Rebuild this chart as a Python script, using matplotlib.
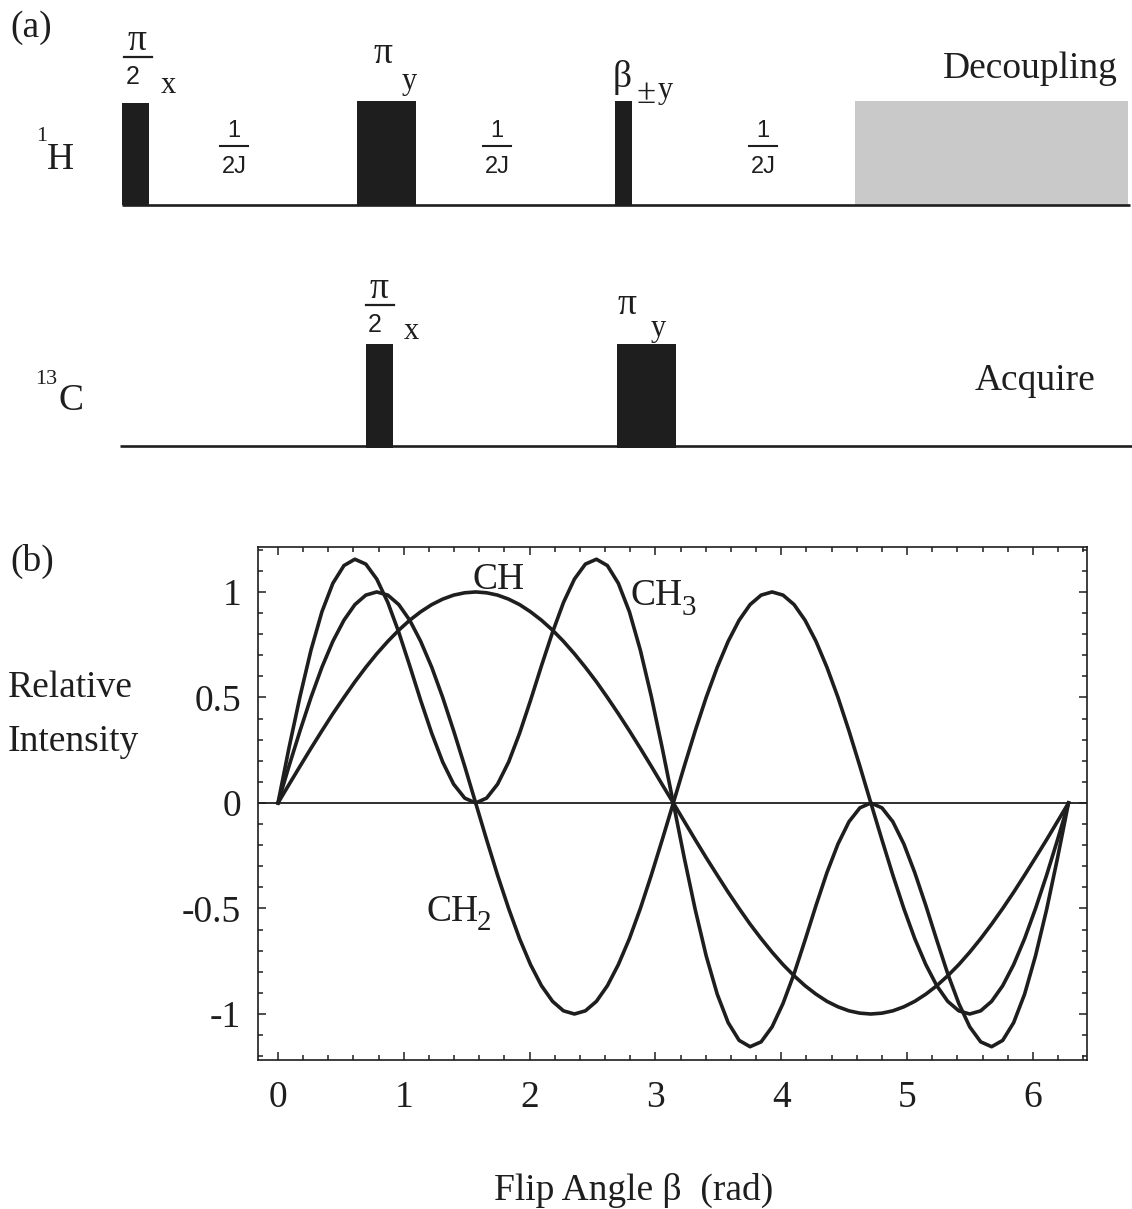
import matplotlib
matplotlib.use("Agg")
import matplotlib.pyplot as plt
from matplotlib.patches import Rectangle
from matplotlib.ticker import MultipleLocator, FixedLocator, FixedFormatter

plt.rcParams['font.family'] = ['Liberation Serif', 'DejaVu Serif']
plt.rcParams['axes.unicode_minus'] = False

# ---------------- data (b): relative intensity vs flip angle -------------
beta = [0.000, 0.087, 0.175, 0.262, 0.349, 0.436, 0.524, 0.611, 0.698, 0.785,
        0.873, 0.960, 1.047, 1.134, 1.222, 1.309, 1.396, 1.484, 1.571, 1.658,
        1.745, 1.833, 1.920, 2.007, 2.094, 2.182, 2.269, 2.356, 2.443, 2.531,
        2.618, 2.705, 2.793, 2.880, 2.967, 3.054, 3.142, 3.229, 3.316, 3.403,
        3.491, 3.578, 3.665, 3.752, 3.840, 3.927, 4.014, 4.102, 4.189, 4.276,
        4.363, 4.451, 4.538, 4.625, 4.712, 4.800, 4.887, 4.974, 5.061, 5.149,
        5.236, 5.323, 5.411, 5.498, 5.585, 5.672, 5.760, 5.847, 5.934, 6.021,
        6.109, 6.196, 6.283]

ch = [0.000, 0.087, 0.174, 0.259, 0.342, 0.423, 0.500, 0.574, 0.643, 0.707,
      0.766, 0.819, 0.866, 0.906, 0.940, 0.966, 0.985, 0.996, 1.000, 0.996,
      0.985, 0.966, 0.940, 0.906, 0.866, 0.819, 0.766, 0.707, 0.643, 0.574,
      0.500, 0.423, 0.342, 0.259, 0.174, 0.087, 0.000, -0.087, -0.174, -0.259,
      -0.342, -0.423, -0.500, -0.574, -0.643, -0.707, -0.766, -0.819, -0.866, -0.906,
      -0.940, -0.966, -0.985, -0.996, -1.000, -0.996, -0.985, -0.966, -0.940, -0.906,
      -0.866, -0.819, -0.766, -0.707, -0.643, -0.574, -0.500, -0.423, -0.342, -0.259,
      -0.174, -0.087, 0.000]

ch2 = [0.000, 0.174, 0.342, 0.500, 0.643, 0.766, 0.866, 0.940, 0.985, 1.000,
       0.985, 0.940, 0.866, 0.766, 0.643, 0.500, 0.342, 0.174, 0.000, -0.174,
       -0.342, -0.500, -0.643, -0.766, -0.866, -0.940, -0.985, -1.000, -0.985, -0.940,
       -0.866, -0.766, -0.643, -0.500, -0.342, -0.174, 0.000, 0.174, 0.342, 0.500,
       0.643, 0.766, 0.866, 0.940, 0.985, 1.000, 0.985, 0.940, 0.866, 0.766,
       0.643, 0.500, 0.342, 0.174, 0.000, -0.174, -0.342, -0.500, -0.643, -0.766,
       -0.866, -0.940, -0.985, -1.000, -0.985, -0.940, -0.866, -0.766, -0.643, -0.500,
       -0.342, -0.174, 0.000]

ch3 = [0.000, 0.260, 0.505, 0.724, 0.906, 1.041, 1.125, 1.155, 1.132, 1.061,
       0.950, 0.809, 0.650, 0.486, 0.330, 0.194, 0.089, 0.023, 0.000, 0.023,
       0.089, 0.194, 0.330, 0.486, 0.650, 0.809, 0.950, 1.061, 1.132, 1.155,
       1.125, 1.041, 0.906, 0.724, 0.505, 0.260, 0.000, -0.260, -0.505, -0.724,
       -0.906, -1.041, -1.125, -1.155, -1.132, -1.061, -0.950, -0.809, -0.650, -0.486,
       -0.330, -0.194, -0.089, -0.023, 0.000, -0.023, -0.089, -0.194, -0.330, -0.486,
       -0.650, -0.809, -0.950, -1.061, -1.132, -1.155, -1.125, -1.041, -0.906, -0.724,
       -0.505, -0.260, 0.000]

xtick_vals = [0, 1, 2, 3, 4, 5, 6]
xtick_labels = ['0', '1', '2', '3', '4', '5', '6']
ytick_vals = [-1, -0.5, 0, 0.5, 1]
ytick_labels = ['-1', '-0.5', '0', '0.5', '1']

# ---------------- data (a): pulse sequence (pixel layout of the scheme) ----------------
h_pulse_left = [122, 357, 615]
h_pulse_right = [149, 416, 632]
h_pulse_top = [103, 101, 101]
c_pulse_left = [366, 617]
c_pulse_right = [393, 676]
c_pulse_top = [344, 344]
delay_centers = [234, 497, 763]

W, H = 1132, 1209
INK = '#1e1e1e'
SANS = ['Liberation Sans', 'DejaVu Sans']
FS = 27

fig = plt.figure(figsize=(W / 100, H / 100), dpi=100)

# overlay axes in pixel coordinates for the pulse scheme and free labels
ov = fig.add_axes([0, 0, 1, 1])
ov.set_xlim(0, W)
ov.set_ylim(H, 0)
ov.axis('off')

# (a) baselines
H_BASE, C_BASE = 205, 446
ov.plot([122, 1130], [H_BASE, H_BASE], color=INK, lw=1.9, solid_capstyle='butt')
ov.plot([120, 1132], [C_BASE, C_BASE], color=INK, lw=1.9, solid_capstyle='butt')

for l, r, t in zip(h_pulse_left, h_pulse_right, h_pulse_top):
    ov.add_patch(Rectangle((l, t), r - l, H_BASE - t, facecolor=INK, edgecolor='none'))
for l, r, t in zip(c_pulse_left, c_pulse_right, c_pulse_top):
    ov.add_patch(Rectangle((l, t), r - l, C_BASE + 2 - t, facecolor=INK, edgecolor='none'))

# decoupling block
ov.add_patch(Rectangle((855, 101), 273, H_BASE - 101, facecolor='#c9c9c9', edgecolor='none'))

# panel labels
ov.text(10, 37, '(a)', fontsize=FS, color=INK, va='baseline')
ov.text(10, 571, '(b)', fontsize=FS, color=INK, va='baseline')

# nucleus labels
ov.text(36, 141, '1', fontsize=16, color=INK, va='baseline')
ov.text(47, 169, 'H', fontsize=FS, color=INK, va='baseline')
ov.text(35, 384, '13', fontsize=16, color=INK, va='baseline')
ov.text(58, 410, 'C', fontsize=FS, color=INK, va='baseline')

ov.text(1118, 78, 'Decoupling', fontsize=FS, color=INK, va='baseline', ha='right')
ov.text(1095, 390, 'Acquire', fontsize=FS, color=INK, va='baseline', ha='right')


def half_pi(xc, top, sub_x, sub_base, sub):
    ov.text(xc, top + 18, 'π', fontsize=27, color=INK, va='baseline', ha='center')
    ov.plot([xc - 13, xc + 15], [top + 25, top + 25], color=INK, lw=1.6)
    ov.text(xc - 4, top + 52, '2', fontsize=18, color=INK, va='baseline', ha='center',
            family=SANS)
    ov.text(sub_x, sub_base, sub, fontsize=22, color=INK, va='baseline', ha='center')


def full_pi(xc, base, sub_x, sub_base, sub):
    ov.text(xc, base, 'π', fontsize=27, color=INK, va='baseline', ha='center')
    ov.text(sub_x, sub_base, sub, fontsize=22, color=INK, va='baseline', ha='center')


half_pi(137, 32, 168, 93, 'x')
full_pi(383, 63, 409, 89, 'y')
half_pi(379, 280, 411, 339, 'x')
full_pi(627, 314, 658, 336, 'y')

# beta pulse label
ov.text(622, 87, 'β', fontsize=27, color=INK, va='baseline', ha='center')
ov.text(646, 103, '±', fontsize=25, color=INK, va='baseline', ha='center')
ov.text(665, 98, 'y', fontsize=22, color=INK, va='baseline', ha='center')

# delay labels 1/2J
for xc in delay_centers:
    ov.text(xc, 137, '1', fontsize=17, color=INK, va='baseline', ha='center', family=SANS)
    ov.plot([xc - 14, xc + 14], [146, 146], color=INK, lw=1.5)
    ov.text(xc, 173, '2J', fontsize=17, color=INK, va='baseline', ha='center', family=SANS)

# axis label texts of (b)
ov.text(8, 697, 'Relative', fontsize=FS, color=INK, va='baseline')
ov.text(8, 751, 'Intensity', fontsize=FS, color=INK, va='baseline')
ov.text(494, 1200, 'Flip Angle β  (rad)', fontsize=FS, color=INK, va='baseline')

# curve labels (with lowered subscripts as in the original)
ov.text(499, 589, 'CH', fontsize=FS, color=INK, va='baseline', ha='center')
ov.text(631, 605, 'CH', fontsize=FS, color=INK, va='baseline', ha='left')
ov.text(682, 615, '3', fontsize=21, color=INK, va='baseline', ha='left')
ov.text(426, 921, 'CH', fontsize=FS, color=INK, va='baseline', ha='left')
ov.text(477, 930, '2', fontsize=21, color=INK, va='baseline', ha='left')

# ---------------- (b) plot ----------------
ax = fig.add_axes([258 / W, 1 - 1060 / H, (1087 - 258) / W, (1060 - 547) / H])
ax.patch.set_alpha(0)
LW = 2.6
ax.plot(beta, ch, color=INK, lw=LW)
ax.plot(beta, ch2, color=INK, lw=LW)
ax.plot(beta, ch3, color=INK, lw=LW)
ax.axhline(0, color=INK, lw=1.3)

ax.set_xlim(-0.159, 6.43)
ax.set_ylim(-1.218, 1.213)
ax.xaxis.set_major_locator(FixedLocator(xtick_vals))
ax.xaxis.set_major_formatter(FixedFormatter(xtick_labels))
ax.yaxis.set_major_locator(FixedLocator(ytick_vals))
ax.yaxis.set_major_formatter(FixedFormatter(ytick_labels))
ax.xaxis.set_minor_locator(MultipleLocator(0.2))
ax.yaxis.set_minor_locator(MultipleLocator(0.1))
ax.tick_params(which='both', direction='in', top=True, right=True, color=INK, width=1.1)
ax.tick_params(which='major', length=6)
ax.tick_params(which='minor', length=3.5)
ax.tick_params(axis='x', which='major', labelsize=FS, pad=15, labelcolor=INK)
ax.tick_params(axis='y', which='major', labelsize=FS, pad=12, labelcolor=INK)
for s in ax.spines.values():
    s.set_linewidth(1.2)
    s.set_color(INK)

fig.savefig('out.png', dpi=100)
